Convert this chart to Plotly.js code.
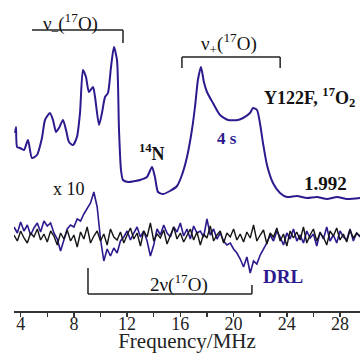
<!DOCTYPE html>
<html>
<head>
<meta charset="utf-8">
<script src="https://cdn.plot.ly/plotly-3.0.1.min.js"></script>
<style>html,body{margin:0;padding:0;background:#fff;}#chart{width:360px;height:353px;}</style>
</head>
<body>
<div id="chart"></div>
<script>
// ENDOR spectrum (arbitrary intensity units), frequency in MHz
const mainFreq = [3.58,3.65,3.73,3.95,4.25,4.55,4.85,5.23,5.60,5.83,6.20,6.43,6.66,6.88,7.18,7.41,7.63,7.93,8.23,8.46,8.68,8.91,9.13,9.44,9.59,9.89,10.11,10.34,10.56,10.79,11.01,11.24,11.39,11.54,11.69,12.07,12.59,12.97,13.49,13.87,14.09,14.32,14.69,15.22,15.75,16.12,16.50,16.87,17.10,17.32,17.55,17.77,18.0,18.45,18.98,19.58,20.33,20.71,21.23,21.46,21.76,21.98,22.21,22.51,22.96,23.49,24.01,24.76,25.51,26.27,27.02,27.77,28.52,29.5];
const mainSignal = [178,184,164,163,161,171,153,156,173,191,198,191,179,183,191,181,169,166,174,198,241,234,219,224,214,186,198,214,218,244,264,251,181,141,131,129,130,131,134,144,134,119,117,120,125,136,154,181,204,231,244,229,219,208,196,191,191,193,198,203,201,188,168,146,128,118,114,115,113,114,112,114,112,113];

const noiseFreq = [3.5,3.75,4,4.25,4.5,4.75,5,5.25,5.5,5.75,
6,6.25,6.5,6.75,7,7.25,7.5,7.75,8,8.25,
8.5,8.75,9,9.25,9.5,9.75,10,10.25,10.5,10.75,
11,11.25,11.5,11.75,12,12.25,12.5,12.75,13,13.25,
13.5,13.75,14,14.25,14.5,14.75,15,15.25,15.5,15.75,
16,16.25,16.5,16.75,17,17.25,17.5,17.75,18,18.25,
18.5,18.75,19,19.25,19.5,19.75,20,20.25,20.5,20.75,
21,21.25,21.5,21.75,22,22.25,22.5,22.75,23,23.25,
23.5,23.75,24,24.25,24.5,24.75,25,25.25,25.5,25.75,
26,26.25,26.5,26.75,27,27.25,27.5,27.75,28,28.25,
28.5,28.75,29,29.25,29.5];

// DRL (x10) trace
const drlSignal = [84,78,89,80,86,76,83,88,79,90,
85,88,78,72,60,70,82,86,84,92,
90,97,102,108,119,104,72,50,62,55,
63,58,70,74,80,71,78,84,74,80,
70,55,66,82,76,86,78,74,84,79,
88,75,82,72,85,78,80,74,92,76,
82,72,78,70,66,68,62,58,52,44,
54,38,50,47,56,62,68,76,70,80,
74,66,78,72,82,70,76,68,80,73,
77,65,79,72,84,70,76,68,80,74,
71,82,70,78,74];

// reference (black) trace
const refSignal = [76,70,80,73,68,78,74,82,71,77,
69,80,75,66,78,72,81,70,76,64,
79,72,84,68,75,80,70,77,66,82,
74,71,79,68,76,83,72,78,65,80,
74,88,70,77,73,81,67,76,84,72,
78,69,75,82,71,79,66,77,73,85,
70,76,80,68,78,74,82,71,77,69,
79,73,86,70,76,81,67,78,74,83,
70,77,65,80,73,79,71,84,68,76,
82,70,78,74,66,80,75,83,71,77,
69,81,73,78,75];

const tickVals = [4,8,12,16,20,24,28];
const tickText = ['4','8','12','16','20','24','28'];

const BLUE = '#2d1a8e';
const FONT = 'Liberation Serif, Times New Roman, serif';

const traces = [
  {x: noiseFreq, y: drlSignal, mode: 'lines', line: {color: BLUE, width: 1.6}, hoverinfo: 'skip'},
  {x: noiseFreq, y: refSignal, mode: 'lines', line: {color: '#151515', width: 1.4}, hoverinfo: 'skip'},
  {x: mainFreq, y: mainSignal, mode: 'lines', line: {color: BLUE, width: 2, shape: 'spline', smoothing: 0.6}, hoverinfo: 'skip'}
];

const bl = {color: '#222', width: 1.5};
const shapes = [
  // nu- bracket
  {type: 'line', xref: 'x', yref: 'y', x0: 4.85, x1: 11.69, y0: 281, y1: 281, line: bl},
  {type: 'line', xref: 'x', yref: 'y', x0: 11.69, x1: 11.69, y0: 281, y1: 268, line: bl},
  // nu+ bracket
  {type: 'line', xref: 'x', yref: 'y', x0: 16.12, x1: 23.5, y0: 254, y1: 254, line: bl},
  {type: 'line', xref: 'x', yref: 'y', x0: 16.12, x1: 16.12, y0: 254, y1: 243, line: bl},
  {type: 'line', xref: 'x', yref: 'y', x0: 23.5, x1: 23.5, y0: 254, y1: 243, line: bl},
  // 2nu bracket
  {type: 'line', xref: 'x', yref: 'y', x0: 9.06, x1: 21.38, y0: 17, y1: 17, line: bl},
  {type: 'line', xref: 'x', yref: 'y', x0: 9.06, x1: 9.06, y0: 17, y1: 43, line: bl},
  {type: 'line', xref: 'x', yref: 'y', x0: 21.38, x1: 21.38, y0: 17, y1: 26, line: bl}
];

function ann(x, y, text, size, color, xanchor) {
  return {x: x, y: y, xref: 'x', yref: 'y', text: text, showarrow: false,
    xanchor: xanchor || 'center', yanchor: 'middle',
    font: {family: FONT, size: size, color: color || '#111'}};
}

const annotations = [
  ann(9.96, 288, 'ν<sub>–</sub>(<sup>17</sup>O)', 19, '#111', 'right'),
  ann(17.4, 268, 'ν<sub>+</sub>(<sup>17</sup>O)', 19, '#111', 'left'),
  ann(13.85, 159, '<b><sup>14</sup>N</b>', 18),
  ann(22.13, 214, '<b>Y122F, <sup>17</sup>O<sub>2</sub></b>', 18, '#111', 'left'),
  ann(19.5, 173, '<b>4 s</b>', 17, BLUE),
  ann(26.87, 128, '<b>1.992</b>', 19),
  ann(7.63, 122, 'x 10', 18),
  ann(23.7, 35, '<b>DRL</b>', 19, BLUE),
  ann(13.57, 28, '2ν(<sup>17</sup>O)', 19, '#111', 'left')
];

const layout = {
  width: 360, height: 353,
  margin: {l: 14, r: 0, t: 0, b: 42},
  paper_bgcolor: '#fff', plot_bgcolor: '#fff',
  showlegend: false,
  xaxis: {
    range: [3.5, 29.5], showgrid: false, zeroline: false,
    showline: true, linecolor: '#333', linewidth: 1.5,
    tickmode: 'array', tickvals: tickVals, ticktext: tickText,
    ticks: 'outside', ticklen: 4, tickwidth: 1.5, tickcolor: '#333',
    ticklabelstandoff: -8,
    minor: {dtick: 2, tick0: 0, ticks: 'outside', ticklen: 4, tickwidth: 1.5, tickcolor: '#333'},
    tickfont: {family: FONT, size: 18, color: '#222'},
    title: {text: 'Frequency/MHz', font: {family: FONT, size: 21, color: '#222'}, standoff: 5}
  },
  yaxis: {range: [0, 311], visible: false, fixedrange: true},
  shapes: shapes,
  annotations: annotations
};

Plotly.newPlot('chart', traces, layout, {staticPlot: true, displayModeBar: false});
</script>
</body>
</html>
